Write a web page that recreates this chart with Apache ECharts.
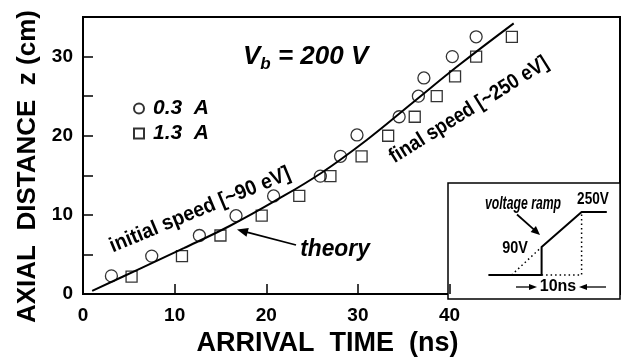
<!DOCTYPE html>
<html><head><meta charset="utf-8">
<script src="https://cdn.jsdelivr.net/npm/echarts@6/dist/echarts.min.js"></script>
<style>html,body{margin:0;padding:0;background:#fff}#c{width:622px;height:362px}</style>
</head><body><div id="c"></div>
<script>
const FONT = "'Liberation Sans', Arial, Helvetica, sans-serif";

// axis ticks and labels
const xLabelValues = [0, 10, 20, 30, 40];
const xTickValues = [10, 20, 30, 40];
const yLabelValues = [0, 10, 20, 30];
const yTickValues = [5, 10, 15, 20, 25, 30];

// 0.3 A beam (circles)
const time03 = [3.1, 7.5, 12.7, 16.7, 20.8, 25.9, 28.1, 29.9, 34.5, 36.6, 37.2, 40.3, 42.9];
const dist03 = [2.3, 4.8, 7.4, 9.9, 12.4, 14.9, 17.4, 20.1, 22.4, 25.0, 27.3, 30.0, 32.5];
// 1.3 A beam (squares)
const time13 = [5.3, 10.8, 15.0, 19.5, 23.6, 27.0, 30.4, 33.3, 36.2, 38.6, 40.6, 42.9, 46.8];
const dist13 = [2.2, 4.8, 7.4, 9.9, 12.4, 14.9, 17.4, 20.0, 22.4, 25.0, 27.5, 30.0, 32.5];
// theory curve
const theoryT = [1, 6, 11, 16, 21, 26, 31, 36, 41, 47];
const theoryZ = [0.4, 3.1, 5.8, 8.6, 11.8, 15.3, 19.5, 24.2, 28.9, 34.2];

// inset: voltage ramp schematic (time in ns from ramp start, level in arbitrary units)
const rampT = [-13.3, 0, 0, 10, 16.3];
const rampV = [0, 0, 28, 63, 63];
const extrapT = [-7.5, 0];
const extrapV = [0, 28];
const guideT = [0, 10, 10];
const guideV = [0, 0, 63];

const zip = (a, b) => a.map((v, i) => [v, b[i]]);

function arrow(x1, y1, x2, y2, len, half, w) {
  const dx = x2 - x1, dy = y2 - y1, L = Math.hypot(dx, dy), ux = dx / L, uy = dy / L;
  const bx = x2 - ux * len, by = y2 - uy * len;
  return [
    {type: 'line', z: 50, shape: {x1: x1, y1: y1, x2: bx + ux, y2: by + uy}, style: {stroke: '#000', lineWidth: w}},
    {type: 'polygon', z: 50, shape: {points: [[x2, y2], [bx - uy * half, by + ux * half], [bx + uy * half, by - ux * half]]}, style: {fill: '#000'}}
  ];
}

const chart = echarts.init(document.getElementById('c'));

const labelStyle = {color: '#000', fontSize: 19, fontWeight: 'bold', fontFamily: FONT};

const option = {
  animation: false,
  backgroundColor: '#fff',
  grid: [
    {left: 83, right: 2, top: 17, bottom: 63, show: true, borderColor: '#000', borderWidth: 2, backgroundColor: 'transparent'},
    {left: 448, right: 2, top: 183, bottom: 63, show: true, borderColor: '#000', borderWidth: 1.5, backgroundColor: '#fff'}
  ],
  legend: {
    data: ['0.3 A', '1.3 A'],
    orient: 'vertical', left: 128, top: 93,
    itemWidth: 10, itemHeight: 10, itemGap: 4,
    selectedMode: false,
    formatter: n => n.replace(' ', '  '),
    textStyle: {color: '#000', fontSize: 21, fontWeight: 'bold', fontStyle: 'italic', fontFamily: FONT, padding: [0, 0, 0, 4]}
  },
  xAxis: [
    {
      type: 'value', gridIndex: 0, min: 0, max: 58.6, interval: 10,
      axisLine: {show: false},
      axisTick: {show: true, inside: true, length: 10, customValues: xTickValues, lineStyle: {color: '#000', width: 1.5}},
      axisLabel: Object.assign({customValues: xLabelValues, margin: 12}, labelStyle),
      splitLine: {show: false},
      name: 'ARRIVAL  TIME  (ns)', nameLocation: 'middle', nameGap: 31,
      nameTextStyle: {color: '#000', fontSize: 27, fontWeight: 'bold', fontFamily: FONT, padding: [0, 48, 0, 0]}
    },
    {type: 'value', gridIndex: 1, min: -23.4, max: 19.6, show: false}
  ],
  yAxis: [
    {
      type: 'value', gridIndex: 0, min: 0, max: 35, interval: 5,
      axisLine: {show: false},
      axisTick: {show: true, inside: true, length: 10, customValues: yTickValues, lineStyle: {color: '#000', width: 1.5}},
      axisLabel: Object.assign({customValues: yLabelValues, margin: 10}, labelStyle),
      splitLine: {show: false},
      name: 'AXIAL  DISTANCE  z (cm)', nameLocation: 'middle', nameGap: 41, nameRotate: 90,
      nameTextStyle: {color: '#000', fontSize: 26, fontWeight: 'bold', fontFamily: FONT, padding: [0, 22, 0, 0]}
    },
    {type: 'value', gridIndex: 1, min: -24, max: 92, show: false}
  ],
  series: [
    {
      name: 'theory', type: 'line', xAxisIndex: 0, yAxisIndex: 0, data: zip(theoryT, theoryZ),
      smooth: 0.4, symbol: 'none', lineStyle: {color: '#000', width: 2}, z: 3
    },
    {
      name: '0.3 A', type: 'scatter', xAxisIndex: 0, yAxisIndex: 0, data: zip(time03, dist03),
      symbol: 'circle', symbolSize: 12,
      itemStyle: {color: 'rgba(255,255,255,0)', borderColor: '#000', borderWidth: 1.3}, z: 4
    },
    {
      name: '1.3 A', type: 'scatter', xAxisIndex: 0, yAxisIndex: 0, data: zip(time13, dist13),
      symbol: 'rect', symbolSize: 11,
      itemStyle: {color: 'rgba(255,255,255,0)', borderColor: '#000', borderWidth: 1.3}, z: 4
    },
    {
      name: 'ramp', type: 'line', xAxisIndex: 1, yAxisIndex: 1, data: zip(rampT, rampV),
      symbol: 'none', lineStyle: {color: '#000', width: 2}, z: 5
    },
    {
      name: 'extrapolation', type: 'line', xAxisIndex: 1, yAxisIndex: 1, data: zip(extrapT, extrapV),
      symbol: 'none', lineStyle: {color: '#000', width: 1.5, type: [1.5, 3]}, z: 5
    },
    {
      name: 'guide', type: 'line', xAxisIndex: 1, yAxisIndex: 1, data: zip(guideT, guideV),
      symbol: 'none', lineStyle: {color: '#000', width: 1.5, type: [1.5, 3]}, z: 5
    }
  ],
  graphic: [
    {
      type: 'text', x: 243, y: 57, z: 50,
      style: {
        text: '{v|V}{s|b}{v| = 200 V}', textVerticalAlign: 'middle',
        rich: {
          v: {fontSize: 26, fontWeight: 'bold', fontStyle: 'italic', fontFamily: FONT, fill: '#000'},
          s: {fontSize: 17, fontWeight: 'bold', fontStyle: 'italic', fontFamily: FONT, fill: '#000', padding: [14, 0, 0, 0]}
        }
      }
    },
    {
      type: 'text', x: 200, y: 210, rotation: 22.5 * Math.PI / 180, scaleX: 0.93, z: 50,
      style: {text: 'initial speed [~90 eV]', textAlign: 'center', textVerticalAlign: 'middle',
        fontSize: 21, fontWeight: 'bold', fontFamily: FONT, fill: '#000'}
    },
    {
      type: 'text', x: 469, y: 110, rotation: 32 * Math.PI / 180, scaleX: 0.88, z: 50,
      style: {text: 'final speed [~250 eV]', textAlign: 'center', textVerticalAlign: 'middle',
        fontSize: 21, fontWeight: 'bold', fontFamily: FONT, fill: '#000'}
    },
    {
      type: 'text', x: 335, y: 249, scaleX: 0.95, z: 50,
      style: {text: 'theory', textAlign: 'center', textVerticalAlign: 'middle',
        fontSize: 24, fontWeight: 'bold', fontStyle: 'italic', fontFamily: FONT, fill: '#000'}
    },
    ...arrow(296, 245, 237, 229.5, 11, 4.5, 1.8),
    {
      type: 'text', x: 523, y: 204, scaleX: 0.68, z: 50,
      style: {text: 'voltage ramp', textAlign: 'center', textVerticalAlign: 'middle',
        fontSize: 18, fontWeight: 'bold', fontStyle: 'italic', fontFamily: FONT, fill: '#000'}
    },
    ...arrow(517, 214.5, 540, 235, 9, 4, 1.8),
    {
      type: 'text', x: 593, y: 200, scaleX: 0.85, z: 50,
      style: {text: '250V', textAlign: 'center', textVerticalAlign: 'middle',
        fontSize: 16, fontWeight: 'bold', fontFamily: FONT, fill: '#000'}
    },
    {
      type: 'text', x: 515, y: 249, scaleX: 0.9, z: 50,
      style: {text: '90V', textAlign: 'center', textVerticalAlign: 'middle',
        fontSize: 16, fontWeight: 'bold', fontFamily: FONT, fill: '#000'}
    },
    {
      type: 'text', x: 558, y: 287, z: 50,
      style: {text: '10ns', textAlign: 'center', textVerticalAlign: 'middle',
        fontSize: 16, fontWeight: 'bold', fontFamily: FONT, fill: '#000'}
    },
    ...arrow(516, 287, 537, 287, 8, 3, 1.3),
    ...arrow(606, 287, 579, 287, 8, 3, 1.3)
  ]
};
chart.setOption(option);
</script></body></html>
